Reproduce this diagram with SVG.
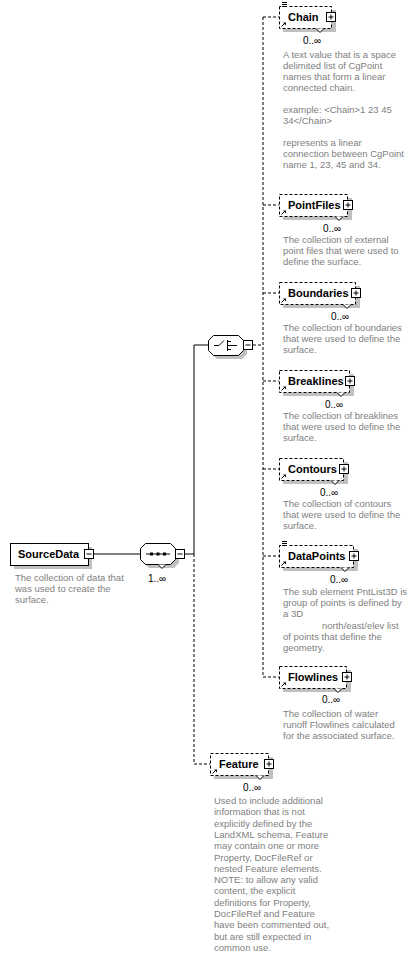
<svg xmlns="http://www.w3.org/2000/svg" width="414" height="958" viewBox="0 0 414 958">
<style>
.bg{fill:#ffffff}
.sh{fill:#c0c0c0}
.box{fill:#ffffff;stroke:#000;stroke-width:1}
.opt{fill:#ffffff;stroke:#000;stroke-width:1;stroke-dasharray:3,2}
.ln{fill:none;stroke:#000;stroke-width:1}
.dl{fill:none;stroke:#000;stroke-width:1;stroke-dasharray:3,2}
.pm{fill:#ffffff;stroke:#000;stroke-width:1}
.lbl{font-family:"Liberation Sans",Arial,sans-serif;font-size:11px;font-weight:bold;fill:#000}
.occ{font-family:"Liberation Sans",Arial,sans-serif;font-size:10px;fill:#000}
.desc{font-family:"Liberation Sans",Arial,sans-serif;font-size:9.5px;fill:#808080}
</style>
<defs>
<g id="plus"><rect class="pm" x="0" y="0" width="9" height="9"/><path class="ln" d="M2,4.5H7M4.5,2V7"/></g>
<g id="minus"><rect class="pm" x="0" y="0" width="9" height="9"/><path class="ln" d="M2,4.5H7"/></g>
<g id="refarrow"><path class="ln" d="M1.5,6.5L5,3"/><path d="M3,2.5H6V5.5Z" fill="#000"/></g>
<g id="simple"><rect x="0" y="0" width="7" height="7" fill="#fff"/><path class="ln" d="M1,1.5H6M1,3.5H6M1,5.5H6"/></g>
</defs>
<rect class="bg" x="0" y="0" width="414" height="958"/>

<g id="connectors">
<path class="ln" d="M94,554H140"/>
<path class="ln" d="M185,554H194V345H208"/>
<path class="dl" d="M194,554V764H210"/>
<path class="dl" d="M253,345H263"/>
<path class="dl" d="M263,17V677H279"/>
<path class="dl" d="M263,17H279M263,205H279M263,293H279M263,381H279M263,469H279M263,556H279"/>
</g>

<g id="SourceData">
<rect class="sh" x="14" y="547" width="78" height="22"/>
<rect class="box" x="10.5" y="543.5" width="78" height="22"/>
<text class="lbl" x="18" y="558">SourceData</text>
<use href="#minus" x="84.5" y="549.5"/>
<text class="desc" x="15"><tspan x="15" y="581">The collection of data that</tspan><tspan x="15" y="592">was used to create the</tspan><tspan x="15" y="603">surface.</tspan></text>
</g>

<g id="sequence">
<path class="sh" d="M149,548H174L179,553V563L174,568H149L144,563V553Z"/>
<path class="box" d="M145.5,543.5H170.5L175.5,548.5V559.5L170.5,564.5H145.5L140.5,559.5V548.5Z"/>
<path class="ln" d="M146,554H170"/>
<rect x="150" y="552.5" width="3" height="3" fill="#000"/>
<rect x="156.5" y="552.5" width="3" height="3" fill="#000"/>
<rect x="163" y="552.5" width="3" height="3" fill="#000"/>
<path class="pm" d="M158,564.5L162,568.5L166,564.5"/>
<use href="#minus" x="175.5" y="549.5"/>
<text class="occ" x="148" y="582">1..∞</text>
</g>

<g id="choice">
<path class="sh" d="M217,339H242L247,344V354L242,359H217L212,354V344Z"/>
<path class="box" d="M213.5,335.5H238.5L243.5,340.5V350.5L238.5,355.5H213.5L208.5,350.5V340.5Z"/>
<path class="ln" d="M214,345.5H219L224,340.5M227.5,340V351M227.5,341.5H231M227.5,345.5H231M227.5,349.5H231M231,345.5H237"/>
<use href="#minus" x="243.5" y="340.5"/>
</g>

<g id="Chain">
<rect class="sh" x="283" y="10" width="53" height="22"/>
<rect class="opt" x="279.5" y="6.5" width="52" height="22"/>
<use href="#simple" x="281" y="1"/>
<use href="#refarrow" x="280" y="20"/>
<text class="lbl" x="288" y="21">Chain</text>
<use href="#plus" x="326.5" y="12.5"/>
<path class="pm" d="M316,28.5L320,32.5L324,28.5"/>
<text class="occ" x="303" y="44">0..∞</text>
<text class="desc"><tspan x="283" y="58">A text value that is a space</tspan><tspan x="283" y="69">delimited list of CgPoint</tspan><tspan x="283" y="80">names that form a linear</tspan><tspan x="283" y="91">connected chain.</tspan><tspan x="283" y="113">example: &lt;Chain&gt;1 23 45</tspan><tspan x="283" y="124">34&lt;/Chain&gt;</tspan><tspan x="283" y="146">represents a linear</tspan><tspan x="283" y="157">connection between CgPoint</tspan><tspan x="283" y="168">name 1, 23, 45 and 34.</tspan></text>
</g>

<g id="PointFiles">
<rect class="sh" x="283" y="198" width="69" height="22"/>
<rect class="opt" x="279.5" y="194.5" width="68" height="22"/>
<use href="#refarrow" x="280" y="208"/>
<text class="lbl" x="288" y="209">PointFiles</text>
<use href="#plus" x="343.5" y="200.5"/>
<path class="pm" d="M335,216.5L339,220.5L343,216.5"/>
<text class="occ" x="323" y="232">0..∞</text>
<text class="desc"><tspan x="283" y="243">The collection of external</tspan><tspan x="283" y="254">point files that were used to</tspan><tspan x="283" y="265">define the surface.</tspan></text>
</g>

<g id="Boundaries">
<rect class="sh" x="283" y="286" width="77" height="22"/>
<rect class="opt" x="279.5" y="282.5" width="76" height="22"/>
<use href="#refarrow" x="280" y="296"/>
<text class="lbl" x="288" y="297">Boundaries</text>
<use href="#plus" x="351.5" y="288.5"/>
<path class="pm" d="M343,304.5L347,308.5L351,304.5"/>
<text class="occ" x="331" y="320">0..∞</text>
<text class="desc"><tspan x="283" y="331">The collection of boundaries</tspan><tspan x="283" y="342">that were used to define the</tspan><tspan x="283" y="353">surface.</tspan></text>
</g>

<g id="Breaklines">
<rect class="sh" x="283" y="374" width="71" height="22"/>
<rect class="opt" x="279.5" y="370.5" width="70" height="22"/>
<use href="#refarrow" x="280" y="384"/>
<text class="lbl" x="288" y="385">Breaklines</text>
<use href="#plus" x="345.5" y="376.5"/>
<path class="pm" d="M337,392.5L341,396.5L345,392.5"/>
<text class="occ" x="325" y="408">0..∞</text>
<text class="desc"><tspan x="283" y="419">The collection of breaklines</tspan><tspan x="283" y="430">that were used to define the</tspan><tspan x="283" y="441">surface.</tspan></text>
</g>

<g id="Contours">
<rect class="sh" x="283" y="462" width="65" height="22"/>
<rect class="opt" x="279.5" y="458.5" width="64" height="22"/>
<use href="#refarrow" x="280" y="472"/>
<text class="lbl" x="288" y="473">Contours</text>
<use href="#plus" x="339.5" y="464.5"/>
<path class="pm" d="M331,480.5L335,484.5L339,480.5"/>
<text class="occ" x="320" y="496">0..∞</text>
<text class="desc"><tspan x="283" y="507">The collection of contours</tspan><tspan x="283" y="518">that were used to define the</tspan><tspan x="283" y="529">surface.</tspan></text>
</g>

<g id="DataPoints">
<rect class="sh" x="283" y="549" width="75" height="22"/>
<rect class="opt" x="279.5" y="545.5" width="74" height="22"/>
<use href="#simple" x="281" y="540"/>
<use href="#refarrow" x="280" y="559"/>
<text class="lbl" x="288" y="560">DataPoints</text>
<use href="#plus" x="349.5" y="551.5"/>
<path class="pm" d="M341,567.5L345,571.5L349,567.5"/>
<text class="occ" x="330" y="583">0..∞</text>
<text class="desc"><tspan x="283" y="595">The sub element PntList3D is</tspan><tspan x="283" y="606">group of points is defined by</tspan><tspan x="283" y="617">a 3D</tspan><tspan x="322" y="629">north/east/elev list</tspan><tspan x="283" y="640">of points that define the</tspan><tspan x="283" y="651">geometry.</tspan></text>
</g>

<g id="Flowlines">
<rect class="sh" x="283" y="670" width="68" height="22"/>
<rect class="opt" x="279.5" y="666.5" width="67" height="22"/>
<use href="#refarrow" x="280" y="680"/>
<text class="lbl" x="288" y="681">Flowlines</text>
<use href="#plus" x="342.5" y="672.5"/>
<path class="pm" d="M334,688.5L338,692.5L342,688.5"/>
<text class="occ" x="322" y="703">0..∞</text>
<text class="desc"><tspan x="283" y="717">The collection of water</tspan><tspan x="283" y="728">runoff Flowlines calculated</tspan><tspan x="283" y="739">for the associated surface.</tspan></text>
</g>

<g id="Feature">
<rect class="sh" x="214" y="757" width="59" height="22"/>
<rect class="opt" x="210.5" y="753.5" width="58" height="22"/>
<use href="#refarrow" x="211" y="767"/>
<text class="lbl" x="219" y="768">Feature</text>
<use href="#plus" x="264.5" y="759.5"/>
<path class="pm" d="M256,775.5L260,779.5L264,775.5"/>
<text class="occ" x="243" y="791">0..∞</text>
<text class="desc"><tspan x="214" y="804">Used to include additional</tspan><tspan x="214" y="815.3">information that is not</tspan><tspan x="214" y="826.6">explicitly defined by the</tspan><tspan x="214" y="837.9">LandXML schema, Feature</tspan><tspan x="214" y="849.2">may contain one or more</tspan><tspan x="214" y="860.5">Property, DocFileRef or</tspan><tspan x="214" y="871.8">nested Feature elements.</tspan><tspan x="214" y="883.1">NOTE: to allow any valid</tspan><tspan x="214" y="894.4">content, the explicit</tspan><tspan x="214" y="905.7">definitions for Property,</tspan><tspan x="214" y="917">DocFileRef and Feature</tspan><tspan x="214" y="928.3">have been commented out,</tspan><tspan x="214" y="939.6">but are still expected in</tspan><tspan x="214" y="950.9">common use.</tspan></text>
</g>
</svg>
